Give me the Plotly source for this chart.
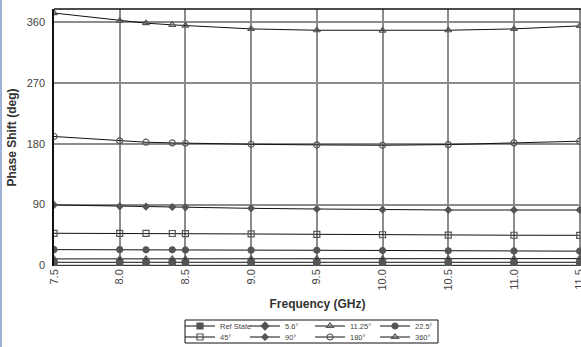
import plotly.graph_objects as go

freq = [7.5, 8.0, 8.2, 8.4, 8.5, 9.0, 9.5, 10.0, 10.5, 11.0, 11.5]
ref_state = [0, 0, 0, 0, 0, 0, 0, 0, 0, 0, 0]
s5_6 = [4.5, 4.5, 4.5, 4.5, 4.5, 4.5, 4.5, 4.5, 4.5, 4.5, 4.5]
s11_25 = [9.5, 9.5, 9.5, 9.5, 9.5, 9.6, 9.7, 9.8, 9.9, 10.0, 10.0]
s22_5 = [23.3, 23.3, 23.0, 23.0, 22.8, 22.5, 22.3, 22.0, 21.5, 21.3, 21.0]
s45 = [47.5, 47.5, 47.3, 47.2, 47.0, 46.5, 46.0, 45.3, 44.8, 44.6, 44.5]
s90 = [89.5, 87.5, 87.0, 86.5, 86.0, 84.5, 83.5, 82.5, 82.0, 82.0, 82.0]
s180 = [191, 184.5, 182.5, 181.5, 181, 179.5, 178.5, 178, 179, 181.5, 184]
s360 = [374, 362.5, 359, 356.5, 355.5, 350.5, 348.5, 348, 348.5, 350.5, 355]

names = ["Ref State", "5.6°", "11.25°", "22.5°", "45°", "90°", "180°", "360°"]
series = [ref_state, s5_6, s11_25, s22_5, s45, s90, s180, s360]
symbols = ["square", "diamond", "triangle-up-open", "circle",
           "square-open", "diamond", "circle-open", "triangle-up-open"]
sizes = [6, 6, 6, 6, 6, 5, 6, 6]
legend_ids = ["legend", "legend", "legend", "legend",
              "legend2", "legend2", "legend2", "legend2"]

x_ticks = [7.5, 8.0, 8.5, 9.0, 9.5, 10.0, 10.5, 11.0, 11.5]
y_ticks = [0, 90, 180, 270, 360]

fig = go.Figure()
for name, ys, sym, sz, lg in zip(names, series, symbols, sizes, legend_ids):
    fig.add_trace(go.Scatter(
        x=freq, y=ys, name=name, mode="lines+markers", legend=lg,
        line=dict(color="#111111", width=1),
        marker=dict(symbol=sym, size=sz, color="#555555",
                    line=dict(color="#555555", width=1.2)),
    ))

legend_common = dict(
    orientation="h", xref="container", yref="container",
    xanchor="left", yanchor="middle",
    borderwidth=0, bgcolor="rgba(0,0,0,0)",
    font=dict(size=7.5, color="#444444"),
    entrywidth=20, itemwidth=30, tracegroupgap=0,
)

PW = 527  # plot width in px (581 - 54)
grid_col = "#8c8c8c"
fig.update_layout(
    width=581, height=347,
    margin=dict(l=54, r=0, t=9, b=81, autoexpand=False),
    paper_bgcolor="white", plot_bgcolor="white",
    font=dict(family="Liberation Sans, Arial, sans-serif", size=11, color="#444444"),
    showlegend=True,
    legend=dict(legend_common, x=180 / 581, y=1 - 326 / 347),
    legend2=dict(legend_common, x=180 / 581, y=1 - 337 / 347),
    xaxis=dict(
        range=[7.5, 11.51], tickmode="array", tickvals=x_ticks,
        ticktext=[f"{v:.1f}" for v in x_ticks], tickangle=-90,
        ticklabeloverflow="allow",
        showgrid=True, gridcolor=grid_col, gridwidth=2,
        zeroline=False, showline=False, ticks="", automargin=False,
        title=dict(text="<b>Frequency (GHz)</b>", font=dict(size=12, color="#333333"), standoff=10),
    ),
    yaxis=dict(
        range=[-1, 380], tickmode="array", tickvals=y_ticks,
        showgrid=True, gridcolor=grid_col, gridwidth=2,
        zeroline=False, showline=True, linecolor="#111111", linewidth=1.5,
        ticks="", ticklabelstandoff=5, automargin=False,
        title=dict(text="<b>Phase Shift (deg)</b>", font=dict(size=12, color="#333333"), standoff=7),
    ),
    shapes=[
        dict(type="line", xref="paper", yref="paper", x0=0, x1=1, y0=1, y1=1,
             line=dict(color="#111111", width=1.5)),
        dict(type="line", xref="paper", yref="paper", x0=-53 / PW, x1=-53 / PW, y0=-0.33, y1=1.04,
             line=dict(color="#9db2d6", width=2)),
        dict(type="rect", xref="paper", yref="paper",
             x0=(185 - 54) / PW, x1=(438 - 54) / PW,
             y0=(266 - 343) / 257, y1=(266 - 320) / 257,
             line=dict(color="#111111", width=1), fillcolor="rgba(0,0,0,0)"),
    ],
)

fig.write_html("out.html", config={"displayModeBar": False},
               post_script="document.body.style.margin='0';document.body.style.overflow='hidden';")
